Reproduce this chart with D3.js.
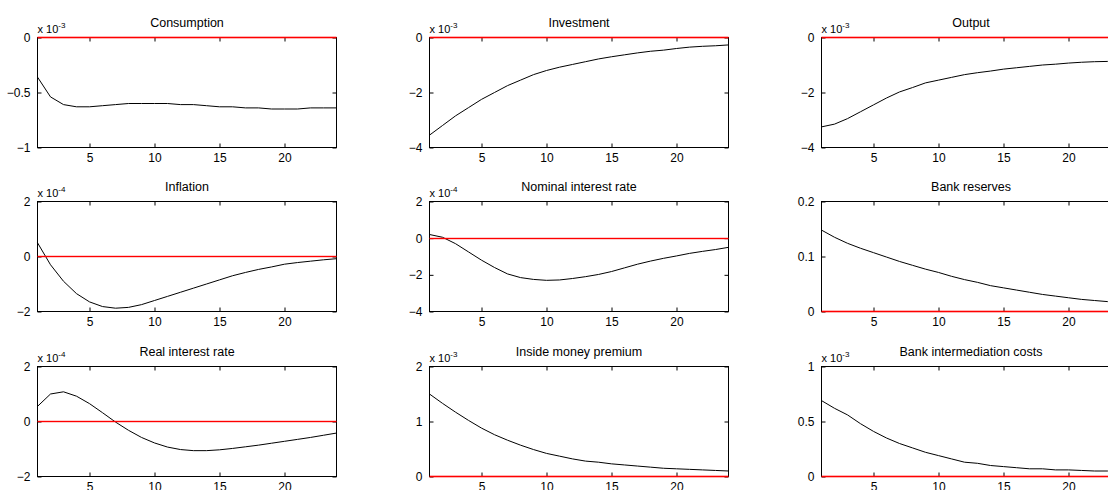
<!DOCTYPE html>
<html><head><meta charset="utf-8">
<script src="https://cdn.jsdelivr.net/npm/d3@7"></script>
<style>body{margin:0;background:#fff}svg{display:block}</style>
</head><body><svg id="c"></svg>
<script>
const titles = ["Consumption","Investment","Output","Inflation","Nominal interest rate","Bank reserves","Real interest rate","Inside money premium","Bank intermediation costs"];
const exponents = ["-3","-3","-3","-4","-4",null,"-4","-3","-3"];
const yDomains = [[-1,0],[-4,0],[-4,0],[-2,2],[-4,2],[0,0.2],[-2,2],[0,2],[0,1]];
const yTicks = [[-1,-0.5,0],[-4,-2,0],[-4,-2,0],[-2,0,2],[-4,-2,0,2],[0,0.1,0.2],[-2,0,2],[0,1,2],[0,0.5,1]];
const xTicks = [5,10,15,20];
const periods = d3.range(1,25);
const series = [
  [-0.36,-0.54,-0.61,-0.63,-0.63,-0.62,-0.61,-0.60,-0.60,-0.60,-0.60,-0.61,-0.61,-0.62,-0.63,-0.63,-0.64,-0.64,-0.65,-0.65,-0.65,-0.64,-0.64,-0.64],
  [-3.55,-3.2,-2.85,-2.55,-2.25,-2.0,-1.75,-1.55,-1.35,-1.2,-1.08,-0.98,-0.88,-0.78,-0.7,-0.63,-0.56,-0.5,-0.46,-0.4,-0.35,-0.32,-0.3,-0.27],
  [-3.25,-3.15,-2.95,-2.7,-2.45,-2.2,-1.98,-1.82,-1.65,-1.55,-1.45,-1.35,-1.28,-1.22,-1.15,-1.1,-1.05,-1.0,-0.97,-0.93,-0.9,-0.88,-0.87,-0.83],
  [0.5,-0.3,-0.9,-1.35,-1.65,-1.82,-1.88,-1.85,-1.75,-1.6,-1.45,-1.3,-1.15,-1.0,-0.85,-0.7,-0.58,-0.47,-0.38,-0.28,-0.22,-0.17,-0.12,-0.08],
  [0.2,0.05,-0.3,-0.75,-1.2,-1.6,-1.95,-2.15,-2.25,-2.3,-2.28,-2.2,-2.1,-1.98,-1.82,-1.62,-1.42,-1.25,-1.1,-0.97,-0.83,-0.72,-0.62,-0.5],
  [0.148,0.135,0.124,0.115,0.107,0.099,0.091,0.084,0.077,0.071,0.064,0.058,0.053,0.047,0.043,0.039,0.035,0.031,0.028,0.025,0.022,0.02,0.018,0.016],
  [0.55,1.0,1.08,0.92,0.65,0.32,-0.02,-0.32,-0.58,-0.78,-0.93,-1.02,-1.06,-1.06,-1.03,-0.98,-0.92,-0.86,-0.79,-0.72,-0.65,-0.58,-0.5,-0.42],
  [1.5,1.33,1.17,1.02,0.88,0.76,0.66,0.57,0.49,0.42,0.37,0.32,0.28,0.26,0.23,0.21,0.19,0.17,0.15,0.14,0.13,0.12,0.11,0.1],
  [0.69,0.62,0.56,0.48,0.41,0.35,0.30,0.26,0.22,0.19,0.16,0.13,0.12,0.10,0.09,0.08,0.07,0.07,0.06,0.06,0.055,0.05,0.05,0.05]
];

const width = 1108, height = 490;
const svg = d3.select("#c").attr("width", width).attr("height", height)
  .style("font-family", "'Liberation Sans', Arial, sans-serif");

const pw = 299, ph = 110;
const lefts = [37.5, 429.5, 821.5], tops = [37.5, 201.5, 366.5];

titles.forEach((title, i) => {
  const col = i % 3, row = Math.floor(i / 3);
  const g = svg.append("g").attr("transform", `translate(${lefts[col]},${tops[row]})`);
  const x = d3.scaleLinear().domain([1, 24]).range([0, pw]);
  const y = d3.scaleLinear().domain(yDomains[i]).range([ph, 0]);

  g.append("path").datum(series[i])
    .attr("fill", "none").attr("stroke", "#000").attr("stroke-width", 1)
    .attr("d", d3.line().x((d, k) => x(periods[k])).y(d => y(d)));

  g.append("rect").attr("width", pw).attr("height", ph)
    .attr("fill", "none").attr("stroke", "#000").attr("stroke-width", 1);

  g.append("g").attr("transform", `translate(0,${ph})`)
    .call(d3.axisBottom(x).tickValues(xTicks).tickSize(-4).tickPadding(6));
  g.append("g").call(d3.axisTop(x).tickValues(xTicks).tickSize(-4).tickFormat(""));
  g.append("g")
    .call(d3.axisLeft(y).tickValues(yTicks[i]).tickSize(-4).tickPadding(7).tickFormat(d3.format("")));
  g.append("g").attr("transform", `translate(${pw},0)`)
    .call(d3.axisRight(y).tickValues(yTicks[i]).tickSize(-4).tickFormat(""));
  g.selectAll(".domain").remove();
  g.selectAll(".tick line").attr("stroke", "#000");
  g.selectAll(".tick text").attr("font-size", 12).attr("fill", "#000")
    .style("font-family", "'Liberation Sans', Arial, sans-serif");

  // zero line, drawn last
  const y0 = Math.round(y(0));
  const edge = y0 === 0 || y0 === ph;
  g.append("rect").attr("class", "zero")
    .attr("x", 0).attr("width", pw)
    .attr("y", edge ? y0 - 0.8 : y0 - 0.7).attr("height", edge ? 1.6 : 1.4)
    .attr("fill", "#ff0000");

  g.append("text").attr("x", pw / 2).attr("y", -11).attr("text-anchor", "middle")
    .attr("font-size", 12.5).text(title);

  if (exponents[i]) {
    const t = g.append("text").attr("x", 0).attr("y", -5).attr("font-size", 11).text("x 10");
    t.append("tspan").attr("dy", -5).attr("font-size", 8).text(exponents[i]);
  }
});
</script></body></html>
